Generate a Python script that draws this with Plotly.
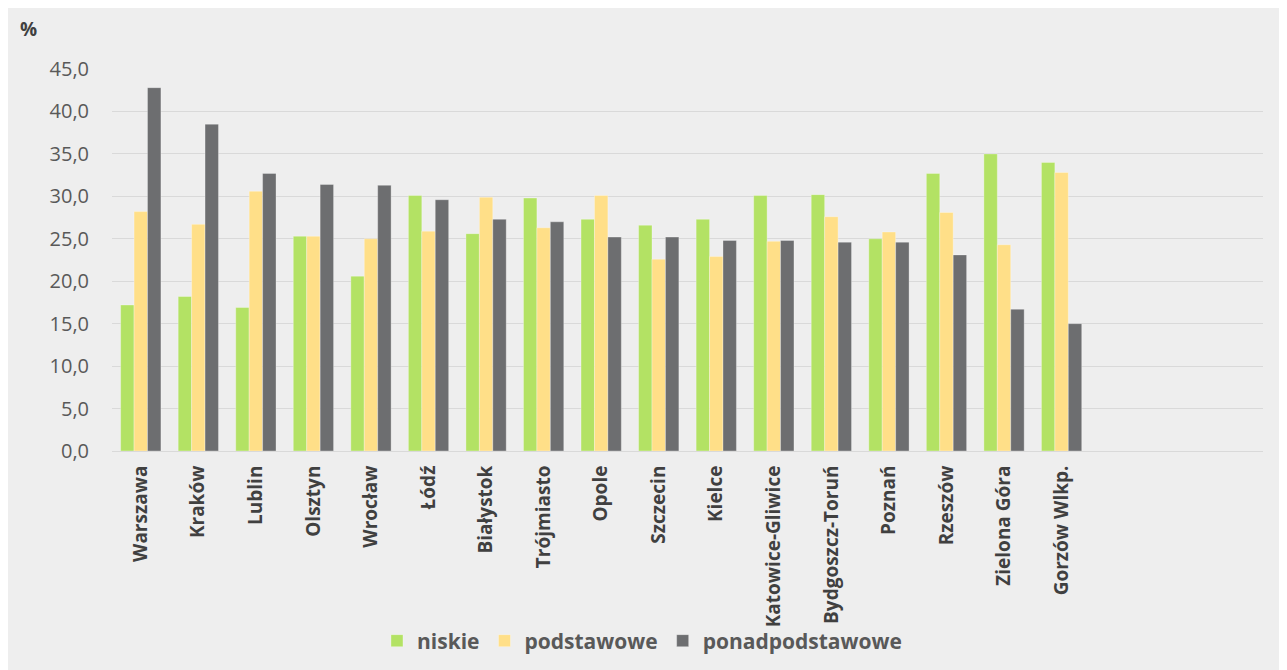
import plotly.graph_objects as go

categories = ["Warszawa", "Kraków", "Lublin", "Olsztyn", "Wrocław", "Łódź", "Białystok",
              "Trójmiasto", "Opole", "Szczecin", "Kielce", "Katowice-Gliwice",
              "Bydgoszcz-Toruń", "Poznań", "Rzeszów", "Zielona Góra", "Gorzów Wlkp."]
niskie = [17.2, 18.2, 16.9, 25.3, 20.6, 30.1, 25.6, 29.8, 27.3, 26.6, 27.3, 30.1, 30.2, 25.0, 32.7, 35.0, 34.0]
podstawowe = [28.2, 26.7, 30.6, 25.3, 25.0, 25.9, 29.9, 26.3, 30.1, 22.6, 22.9, 24.7, 27.6, 25.8, 28.1, 24.3, 32.8]
ponadpodstawowe = [42.8, 38.5, 32.7, 31.4, 31.3, 29.6, 27.3, 27.0, 25.2, 25.2, 24.8, 24.8, 24.6, 24.6, 23.1, 16.7, 15.0]
series_names = ["niskie", "podstawowe", "ponadpodstawowe"]
series_colors = ["#b3e264", "#ffdf88", "#6d6e70"]
y_ticks = [0, 5, 10, 15, 20, 25, 30, 35, 40, 45]

W, H = 1287, 670
L, R, T, B = 104, 32, 61, 227
PW, PH = W - L - R, H - T - B

fig = go.Figure()
for name, vals, col in zip(series_names, [niskie, podstawowe, ponadpodstawowe], series_colors):
    fig.add_trace(go.Bar(
        x=categories, y=vals, name=name,
        marker=dict(color=col, line=dict(color="rgba(255,255,255,0.3)", width=1)),
    ))

fig.update_layout(
    width=W, height=H,
    barmode="group", bargap=0.3, bargroupgap=0,
    paper_bgcolor="#eeeeee", plot_bgcolor="#eeeeee",
    separators=", ",
    margin=dict(l=L, r=R, t=T, b=B, autoexpand=False),
    font=dict(family="Open Sans", color="#595959"),
    xaxis=dict(
        type="category", range=[-0.5, 19.5], tickangle=-90, automargin=False,
        tickfont=dict(family="Open Sans", size=19, color="#404040", weight="bold"),
        showgrid=False, showline=True, linecolor="#d9d9d9", linewidth=1,
        ticks="", ticklabelstandoff=6,
    ),
    yaxis=dict(
        range=[0, 45], tickvals=y_ticks, tickformat=".1f", automargin=False,
        tickfont=dict(family="Open Sans", size=20, color="#595959"),
        showgrid=True, gridcolor="#d9d9d9", gridwidth=1,
        zeroline=False, showline=False, ticks="", ticklabelstandoff=22,
    ),
    legend=dict(
        orientation="h", x=0.4926, xanchor="center", xref="container",
        y=37/H, yanchor="middle", yref="container",
        font=dict(family="Open Sans", size=21, color="#595959", weight="bold"),
        bgcolor="rgba(0,0,0,0)",
    ),
    annotations=[dict(text="%", xref="paper", yref="paper", x=(10 - L)/PW, y=(H - B - 21)/PH,
                      xanchor="left", yanchor="middle", showarrow=False,
                      font=dict(family="Open Sans", size=19, color="#404040", weight="bold"))],
)

fig.write_html("out.html")
